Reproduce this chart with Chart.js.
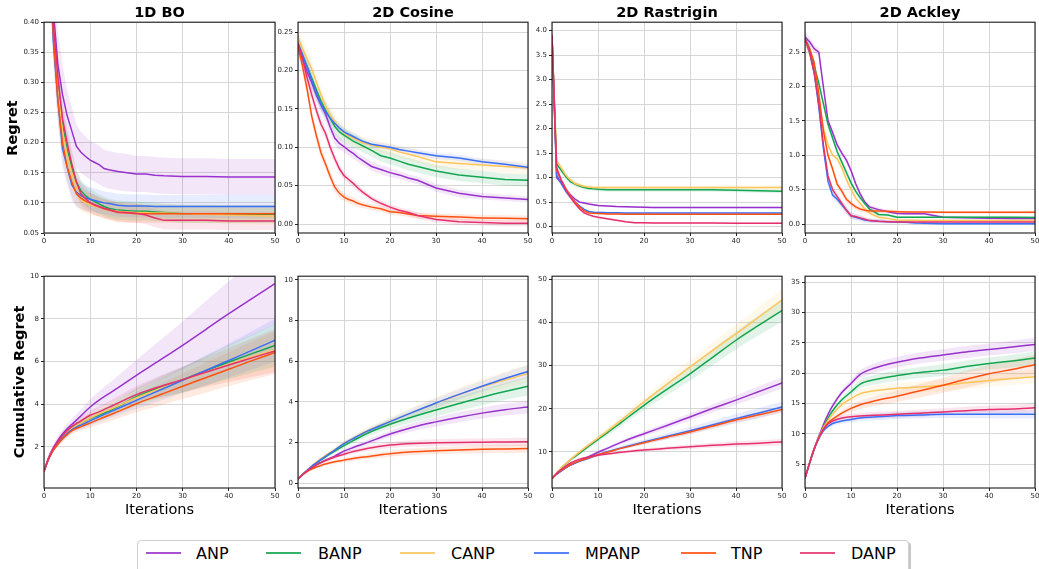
<!DOCTYPE html>
<html><head><meta charset="utf-8">
<script src="https://cdn.jsdelivr.net/npm/chart.js@4.4.1/dist/chart.umd.min.js"></script>
<style>
html,body{margin:0;padding:0;background:#fff;width:1039px;height:569px;overflow:hidden;position:relative;font-family:"DejaVu Sans",sans-serif;color:#000;}
canvas{position:absolute;}
.t{position:absolute;font-weight:bold;font-size:14.5px;transform:translate(-50%,-50%);white-space:nowrap;}
.yl{position:absolute;font-weight:bold;font-size:14.5px;transform:translate(-50%,-50%) rotate(-90deg);white-space:nowrap;}
.xl{position:absolute;font-size:14.5px;transform:translate(-50%,-50%);white-space:nowrap;}
#legend{position:absolute;left:137px;top:540px;width:770px;height:40px;border:1px solid #cfcfcf;border-radius:4px;box-shadow:2px 2px 0 rgba(0,0,0,0.22);background:#fff;}
.sw{position:absolute;height:2px;width:35px;opacity:0.85;}
.lt{position:absolute;font-size:16px;transform:translateY(-50%);white-space:nowrap;}
</style>
</head><body>
<div id="legend"></div>
<script>
const names = ['ANP','BANP','CANP','MPANP','TNP','DANP'];
const colors = ['#9932cc','#12a650','#ffc55a','#3a6ff7','#ff5010','#e6306e'];
const titles = ['1D BO','2D Cosine','2D Rastrigin','2D Ackley'];
const xTicks = [0,10,20,30,40,50];

// iterations sampled (regret rows / cumulative rows)
const iterR = [0,1,2,3,4,5,6,7,8,9,10,11,12,13,14,16,18,20,22,24,26,30,35,40,45,50];
const iterC = [0,1,2,3,4,5,6,8,10,12,15,20,25,30,35,40,45,50];

// ---- Regret: 1D BO ----
const boTicks = [0.05,0.10,0.15,0.20,0.25,0.30,0.35,0.40];
const boAnp   = [0.80,0.60,0.42,0.33,0.28,0.245,0.22,0.194,0.184,0.177,0.171,0.167,0.163,0.157,0.155,0.152,0.150,0.148,0.148,0.146,0.145,0.144,0.144,0.143,0.143,0.143];
const boBanp  = [0.80,0.56,0.39,0.30,0.23,0.19,0.16,0.135,0.12,0.112,0.106,0.102,0.098,0.094,0.091,0.088,0.087,0.086,0.086,0.085,0.084,0.082,0.082,0.081,0.081,0.081];
const boCanp  = [0.80,0.56,0.39,0.29,0.22,0.18,0.15,0.125,0.105,0.100,0.097,0.095,0.093,0.090,0.088,0.086,0.085,0.084,0.084,0.083,0.083,0.082,0.081,0.080,0.079,0.078];
const boMpanp = [0.80,0.55,0.37,0.27,0.19,0.16,0.13,0.118,0.112,0.108,0.106,0.104,0.102,0.100,0.099,0.096,0.095,0.095,0.095,0.094,0.094,0.094,0.094,0.094,0.094,0.094];
const boTnp   = [0.80,0.55,0.38,0.27,0.20,0.16,0.135,0.115,0.108,0.103,0.100,0.096,0.093,0.090,0.088,0.084,0.083,0.082,0.082,0.082,0.082,0.082,0.082,0.082,0.082,0.082];
const boDanp  = [0.80,0.57,0.40,0.31,0.24,0.20,0.165,0.135,0.115,0.107,0.100,0.097,0.094,0.091,0.089,0.085,0.084,0.083,0.080,0.075,0.071,0.071,0.071,0.070,0.070,0.070];
const boAnpSd = [0.10,0.09,0.07,0.055,0.048,0.043,0.04,0.036,0.034,0.033,0.032,0.032,0.032,0.031,0.031,0.031,0.031,0.030,0.030,0.030,0.030,0.030,0.030,0.030,0.030,0.030];
const boSd    = [0.06,0.05,0.04,0.035,0.03,0.027,0.024,0.021,0.019,0.018,0.017,0.017,0.016,0.016,0.016,0.016,0.016,0.016,0.015,0.015,0.015,0.015,0.015,0.015,0.015,0.015];
const boMpSd  = [0.06,0.05,0.04,0.035,0.03,0.028,0.026,0.024,0.022,0.021,0.02,0.02,0.02,0.019,0.019,0.019,0.019,0.019,0.019,0.019,0.019,0.019,0.019,0.019,0.019,0.019];

// ---- Regret: 2D Cosine ----
const cosTicks = [0,0.05,0.10,0.15,0.20,0.25];
const cosAnp   = [0.235,0.215,0.198,0.184,0.168,0.155,0.143,0.126,0.112,0.105,0.101,0.096,0.092,0.087,0.083,0.075,0.071,0.067,0.064,0.060,0.057,0.047,0.040,0.036,0.034,0.032];
const cosBanp  = [0.235,0.22,0.205,0.19,0.175,0.16,0.148,0.138,0.127,0.12,0.116,0.112,0.108,0.105,0.102,0.096,0.089,0.086,0.082,0.078,0.075,0.069,0.064,0.061,0.058,0.057];
const cosCanp  = [0.242,0.228,0.215,0.202,0.185,0.168,0.154,0.142,0.133,0.125,0.119,0.115,0.112,0.109,0.106,0.103,0.100,0.098,0.094,0.091,0.088,0.081,0.079,0.077,0.075,0.073];
const cosMpanp = [0.235,0.22,0.205,0.187,0.17,0.156,0.146,0.138,0.131,0.125,0.12,0.117,0.114,0.111,0.108,0.104,0.102,0.100,0.097,0.095,0.093,0.089,0.086,0.081,0.078,0.074];
const cosTnp   = [0.232,0.205,0.175,0.14,0.115,0.093,0.078,0.062,0.048,0.040,0.035,0.032,0.030,0.027,0.025,0.022,0.020,0.016,0.015,0.013,0.011,0.010,0.009,0.008,0.0075,0.007];
const cosDanp  = [0.235,0.215,0.19,0.168,0.148,0.13,0.118,0.10,0.085,0.072,0.063,0.058,0.053,0.047,0.042,0.033,0.027,0.022,0.018,0.015,0.011,0.006,0.003,0.002,0.001,0.001];
const cosSdA = [0.012,0.012,0.011,0.011,0.01,0.01,0.009,0.009,0.008,0.008,0.007,0.007,0.007,0.006,0.006,0.006,0.006,0.006,0.005,0.005,0.005,0.005,0.005,0.004,0.004,0.004];
const cosSdB = [0.014,0.014,0.013,0.013,0.012,0.012,0.011,0.011,0.01,0.01,0.009,0.009,0.009,0.009,0.008,0.008,0.008,0.008,0.008,0.008,0.008,0.008,0.008,0.008,0.008,0.008];
const cosSdC = [0.01,0.01,0.009,0.009,0.008,0.008,0.007,0.007,0.006,0.006,0.005,0.005,0.005,0.005,0.004,0.004,0.004,0.004,0.004,0.004,0.004,0.004,0.004,0.004,0.004,0.004];

// ---- Regret: 2D Rastrigin ----
const rasTicks = [0,0.5,1.0,1.5,2.0,2.5,3.0,3.5,4.0];
const rasAnp   = [3.9,1.0,0.9,0.75,0.65,0.56,0.5,0.48,0.46,0.445,0.43,0.425,0.42,0.415,0.41,0.405,0.40,0.395,0.39,0.39,0.39,0.39,0.39,0.39,0.39,0.39];
const rasBanp  = [3.9,1.28,1.15,1.02,0.92,0.87,0.83,0.80,0.78,0.77,0.76,0.755,0.75,0.75,0.75,0.75,0.75,0.75,0.75,0.75,0.75,0.75,0.75,0.74,0.73,0.72];
const rasCanp  = [3.9,1.35,1.2,1.05,0.95,0.88,0.85,0.82,0.81,0.80,0.80,0.80,0.80,0.80,0.80,0.80,0.80,0.80,0.80,0.80,0.80,0.80,0.80,0.80,0.80,0.80];
const rasMpanp = [3.9,1.05,0.88,0.72,0.6,0.5,0.42,0.35,0.31,0.295,0.29,0.287,0.285,0.283,0.282,0.28,0.28,0.28,0.28,0.28,0.28,0.28,0.28,0.28,0.28,0.28];
const rasTnp   = [3.9,1.15,0.95,0.78,0.62,0.5,0.4,0.32,0.28,0.272,0.27,0.265,0.26,0.258,0.256,0.255,0.255,0.255,0.255,0.255,0.255,0.255,0.255,0.255,0.255,0.255];
const rasDanp  = [3.9,1.2,0.95,0.75,0.6,0.47,0.36,0.28,0.24,0.21,0.19,0.175,0.16,0.145,0.13,0.10,0.08,0.078,0.076,0.075,0.075,0.073,0.072,0.071,0.07,0.07];
const rasSdA = [0.1,0.08,0.07,0.06,0.05,0.05,0.045,0.045,0.04,0.04,0.04,0.04,0.04,0.04,0.04,0.04,0.04,0.04,0.04,0.04,0.04,0.04,0.04,0.04,0.04,0.04];
const rasSdB = [0.1,0.06,0.05,0.04,0.035,0.03,0.03,0.025,0.025,0.02,0.02,0.02,0.02,0.02,0.02,0.02,0.02,0.02,0.02,0.02,0.02,0.02,0.02,0.02,0.02,0.02];

// ---- Regret: 2D Ackley ----
const ackTicks = [0,0.5,1.0,1.5,2.0,2.5];
const ackAnp   = [2.72,2.65,2.55,2.5,1.99,1.5,1.33,1.15,1.03,0.93,0.78,0.59,0.44,0.32,0.25,0.21,0.18,0.155,0.15,0.15,0.15,0.10,0.09,0.085,0.082,0.082];
const ackBanp  = [2.7,2.55,2.3,2.05,1.75,1.45,1.25,1.05,0.9,0.75,0.6,0.48,0.38,0.3,0.22,0.14,0.13,0.1,0.1,0.1,0.1,0.1,0.1,0.1,0.1,0.097];
const ackCanp  = [2.68,2.5,2.2,1.8,1.4,1.15,1.0,0.95,0.82,0.65,0.5,0.38,0.3,0.22,0.16,0.1,0.08,0.06,0.055,0.055,0.05,0.05,0.05,0.05,0.05,0.05];
const ackMpanp = [2.7,2.5,2.2,1.7,1.1,0.62,0.42,0.36,0.28,0.2,0.12,0.1,0.08,0.06,0.05,0.04,0.035,0.03,0.025,0.015,0.01,0.005,0.005,0.005,0.005,0.005];
const ackTnp   = [2.68,2.55,2.35,1.9,1.35,1.0,0.8,0.58,0.48,0.36,0.3,0.25,0.22,0.2,0.19,0.19,0.185,0.18,0.175,0.175,0.175,0.17,0.17,0.17,0.17,0.17];
const ackDanp  = [2.7,2.5,2.2,1.75,1.15,0.7,0.5,0.4,0.3,0.2,0.12,0.11,0.09,0.07,0.05,0.04,0.035,0.03,0.03,0.03,0.03,0.03,0.03,0.03,0.03,0.03];
const ackSd = [0.08,0.07,0.06,0.06,0.06,0.06,0.06,0.05,0.05,0.05,0.045,0.04,0.04,0.035,0.03,0.03,0.025,0.02,0.02,0.02,0.02,0.02,0.02,0.02,0.02,0.02];

// ---- Cumulative: 1D BO ----
const cboTicks = [2,4,6,8,10];
const cboAnp   = [0.85,1.5,1.95,2.3,2.6,2.85,3.05,3.45,3.87,4.2,4.62,5.35,6.05,6.76,7.5,8.24,8.95,9.65];
const cboBanp  = [0.85,1.45,1.88,2.2,2.48,2.7,2.88,3.12,3.32,3.5,3.78,4.35,4.78,5.15,5.57,5.98,6.37,6.75];
const cboCanp  = [0.85,1.45,1.88,2.18,2.45,2.68,2.86,3.12,3.35,3.55,3.82,4.3,4.72,5.12,5.5,5.87,6.22,6.55];
const cboMpanp = [0.85,1.43,1.85,2.15,2.4,2.62,2.8,3.02,3.22,3.42,3.7,4.18,4.65,5.12,5.58,6.05,6.52,7.0];
const cboTnp   = [0.85,1.42,1.83,2.12,2.37,2.57,2.75,2.95,3.12,3.3,3.56,4.02,4.43,4.84,5.24,5.64,6.04,6.42];
const cboDanp  = [0.85,1.47,1.92,2.24,2.52,2.76,2.95,3.22,3.48,3.65,3.95,4.45,4.82,5.15,5.5,5.84,6.17,6.5];
const cboAnpSd = [0.05,0.1,0.15,0.18,0.2,0.22,0.25,0.3,0.36,0.42,0.52,0.72,0.92,1.12,1.32,1.52,1.72,1.92];
const cboSd    = [0.05,0.08,0.1,0.12,0.14,0.15,0.16,0.19,0.22,0.25,0.3,0.4,0.5,0.6,0.7,0.8,0.9,1.0];

// ---- Cumulative: 2D Cosine ----
const ccosTicks = [0,2,4,6,8,10];
const ccosAnp   = [0.21,0.42,0.6,0.76,0.91,1.03,1.14,1.34,1.58,1.76,2.0,2.42,2.76,3.02,3.25,3.45,3.62,3.75];
const ccosBanp  = [0.21,0.43,0.63,0.82,0.99,1.15,1.3,1.58,1.85,2.1,2.45,2.9,3.27,3.6,3.92,4.23,4.51,4.77];
const ccosCanp  = [0.21,0.44,0.65,0.85,1.04,1.21,1.37,1.66,1.98,2.22,2.57,3.04,3.5,3.93,4.35,4.74,5.08,5.4];
const ccosMpanp = [0.21,0.44,0.64,0.84,1.01,1.18,1.33,1.63,1.95,2.2,2.55,3.03,3.5,3.95,4.37,4.77,5.15,5.5];
const ccosTnp   = [0.21,0.42,0.58,0.7,0.8,0.88,0.95,1.06,1.14,1.22,1.31,1.45,1.55,1.6,1.64,1.67,1.69,1.71];
const ccosDanp  = [0.21,0.43,0.61,0.77,0.91,1.02,1.12,1.29,1.43,1.56,1.71,1.88,1.96,1.99,2.01,2.02,2.03,2.04];
const ccosSdA = [0.02,0.03,0.04,0.05,0.06,0.07,0.08,0.09,0.1,0.11,0.13,0.16,0.2,0.23,0.25,0.27,0.29,0.3];
const ccosSdB = [0.02,0.03,0.04,0.05,0.06,0.07,0.08,0.1,0.12,0.14,0.17,0.22,0.27,0.31,0.35,0.39,0.42,0.45];
const ccosSdC = [0.02,0.03,0.04,0.05,0.06,0.07,0.08,0.09,0.1,0.11,0.12,0.14,0.16,0.17,0.18,0.19,0.2,0.2];

// ---- Cumulative: 2D Rastrigin ----
const crasTicks = [10,20,30,40,50];
const crasAnp   = [3.8,4.8,5.6,6.3,6.9,7.4,7.9,8.9,9.9,10.8,12.2,14.2,16.1,18.1,20.1,22.0,24.0,26.0];
const crasBanp  = [3.8,5.0,6.2,7.2,8.1,8.9,9.7,11.3,12.9,14.4,16.8,20.8,24.5,28.1,32.0,35.9,39.4,42.8];
const crasCanp  = [3.8,5.1,6.3,7.3,8.2,9.1,10.0,11.6,13.2,14.8,17.3,21.6,25.7,29.7,33.6,37.4,41.3,45.2];
const crasMpanp = [3.8,4.8,5.6,6.3,6.9,7.4,7.8,8.5,9.3,10.0,10.9,12.3,13.6,14.9,16.3,17.7,19.0,20.4];
const crasTnp   = [3.8,4.9,5.7,6.4,7.0,7.5,7.9,8.6,9.3,9.9,10.8,12.1,13.4,14.6,16.0,17.4,18.6,19.8];
const crasDanp  = [3.8,5.0,5.9,6.7,7.4,7.9,8.3,8.8,9.2,9.5,9.9,10.4,10.8,11.2,11.5,11.8,12.0,12.3];
const crasSdA = [0.1,0.15,0.2,0.25,0.3,0.35,0.4,0.5,0.6,0.7,0.85,1.1,1.35,1.6,1.85,2.1,2.35,2.6];
const crasSdB = [0.1,0.12,0.15,0.18,0.2,0.22,0.25,0.3,0.35,0.4,0.48,0.6,0.72,0.84,0.96,1.08,1.2,1.3];
const crasSdC = [0.1,0.12,0.14,0.16,0.18,0.2,0.22,0.25,0.28,0.3,0.34,0.4,0.46,0.52,0.58,0.64,0.7,0.75];

// ---- Cumulative: 2D Ackley ----
const cackTicks = [5,10,15,20,25,30,35];
const cackAnp   = [2.64,5.2,7.6,9.6,11.5,13.2,14.6,16.8,18.3,19.8,20.8,21.8,22.5,23.0,23.5,23.9,24.3,24.75];
const cackBanp  = [2.64,5.2,7.5,9.4,11.1,12.6,13.8,15.6,16.9,18.2,18.9,19.6,20.1,20.5,21.1,21.6,22.0,22.5];
const cackCanp  = [2.64,5.2,7.5,9.4,11.0,12.2,13.2,14.8,15.8,16.6,17.1,17.5,17.7,18.0,18.4,18.8,19.1,19.4];
const cackMpanp = [2.64,5.1,7.4,9.2,10.5,11.2,11.7,12.1,12.35,12.6,12.75,13.0,13.1,13.2,13.2,13.2,13.2,13.2];
const cackTnp   = [2.64,5.2,7.5,9.3,10.8,11.8,12.4,13.4,14.2,14.8,15.4,16.2,17.1,18.0,19.0,19.9,20.6,21.4];
const cackDanp  = [2.64,5.2,7.5,9.3,10.7,11.6,12.1,12.6,12.8,12.95,13.05,13.2,13.4,13.6,13.8,14.0,14.1,14.3];
const cackSdA = [0.1,0.15,0.2,0.25,0.3,0.35,0.4,0.5,0.6,0.7,0.8,0.85,0.9,0.95,1.0,1.0,1.05,1.1];
const cackSdT = [0.1,0.15,0.2,0.25,0.3,0.35,0.4,0.5,0.6,0.7,0.8,0.95,1.1,1.25,1.4,1.5,1.6,1.7];
const cackSdS = [0.1,0.15,0.2,0.25,0.3,0.35,0.4,0.45,0.5,0.5,0.55,0.55,0.6,0.6,0.65,0.65,0.7,0.7];

const panels = [
 {L:44,R:275,T:22,B:233,x:iterR,y:[boAnp,boBanp,boCanp,boMpanp,boTnp,boDanp],sd:[boAnpSd,boSd,boSd,boMpSd,boSd,boSd],min:0.05,max:0.40,ticks:boTicks,dec:2,smooth:false},
 {L:298,R:528,T:22,B:233,x:iterR,y:[cosAnp,cosBanp,cosCanp,cosMpanp,cosTnp,cosDanp],sd:[cosSdA,cosSdB,cosSdB,cosSdC,cosSdC,cosSdC],min:-0.0117,max:0.263,ticks:cosTicks,dec:2,smooth:false},
 {L:552,R:782,T:22,B:233,x:iterR,y:[rasAnp,rasBanp,rasCanp,rasMpanp,rasTnp,rasDanp],sd:[rasSdB,rasSdA,rasSdA,rasSdB,rasSdB,rasSdB],min:-0.13,max:4.17,ticks:rasTicks,dec:1,smooth:false},
 {L:805,R:1035,T:22,B:233,x:iterR,y:[ackAnp,ackBanp,ackCanp,ackMpanp,ackTnp,ackDanp],sd:[ackSd,ackSd,ackSd,ackSd,ackSd,ackSd],min:-0.13,max:2.935,ticks:ackTicks,dec:1,smooth:false},
 {L:44,R:275,T:276,B:488,x:iterC,y:[cboAnp,cboBanp,cboCanp,cboMpanp,cboTnp,cboDanp],sd:[cboAnpSd,cboSd,cboSd,cboSd,cboSd,cboSd],min:0.07,max:10,ticks:cboTicks,dec:0,smooth:true},
 {L:298,R:528,T:276,B:488,x:iterC,y:[ccosAnp,ccosBanp,ccosCanp,ccosMpanp,ccosTnp,ccosDanp],sd:[ccosSdA,ccosSdB,ccosSdB,ccosSdA,ccosSdC,ccosSdC],min:-0.23,max:10.18,ticks:ccosTicks,dec:0,smooth:true},
 {L:552,R:782,T:276,B:488,x:iterC,y:[crasAnp,crasBanp,crasCanp,crasMpanp,crasTnp,crasDanp],sd:[crasSdB,crasSdA,crasSdA,crasSdB,crasSdC,crasSdC],min:1.6,max:50.77,ticks:crasTicks,dec:0,smooth:true},
 {L:805,R:1035,T:276,B:488,x:iterC,y:[cackAnp,cackBanp,cackCanp,cackMpanp,cackTnp,cackDanp],sd:[cackSdA,cackSdA,cackSdA,cackSdS,cackSdT,cackSdS],min:1.05,max:36,ticks:cackTicks,dec:0,smooth:true}
];

Chart.defaults.font.family = '"DejaVu Sans", sans-serif';
function rgba(hex,a){const n=parseInt(hex.slice(1),16);return `rgba(${n>>16},${(n>>8)&255},${n&255},${a})`;}
const frame = {id:'frame', afterDatasetsDraw(c){const a=c.chartArea,ctx=c.ctx;ctx.save();ctx.strokeStyle='#1a1a1a';ctx.lineWidth=1.1;ctx.strokeRect(a.left,a.top,a.right-a.left,a.bottom-a.top);ctx.restore();}};
const YW=40, PR=6, PT=6, XH=16;

function addText(cls,txt,x,y){const d=document.createElement('div');d.className=cls;d.textContent=txt;d.style.left=x+'px';d.style.top=y+'px';document.body.appendChild(d);}

panels.forEach((p,k)=>{
  const cv=document.createElement('canvas');
  const w=p.R-p.L+YW+PR, h=p.B-p.T+PT+XH;
  cv.width=w; cv.height=h;
  cv.style.left=(p.L-YW)+'px'; cv.style.top=(p.T-PT)+'px'; cv.style.width=w+'px'; cv.style.height=h+'px';
  document.body.appendChild(cv);
  const interp = p.smooth ? 'monotone' : 'default';
  const ds=[];
  names.forEach((n,i)=>{
    ds.push({label:n,data:p.x.map((v,j)=>({x:v,y:p.y[i][j]})),borderColor:colors[i],borderWidth:1.5,pointRadius:0,fill:false,order:6-i,tension:0,cubicInterpolationMode:interp});
  });
  names.forEach((n,i)=>{
    ds.push({label:n+'+',data:p.x.map((v,j)=>({x:v,y:p.y[i][j]+p.sd[i][j]})),borderColor:'rgba(0,0,0,0)',borderWidth:0,pointRadius:0,fill:false,order:20,tension:0,cubicInterpolationMode:interp});
    ds.push({label:n+'-',data:p.x.map((v,j)=>({x:v,y:p.y[i][j]-p.sd[i][j]})),borderColor:'rgba(0,0,0,0)',borderWidth:0,pointRadius:0,fill:'-1',backgroundColor:rgba(colors[i],0.12),order:20,tension:0,cubicInterpolationMode:interp});
  });
  new Chart(cv,{type:'line',data:{datasets:ds},plugins:[frame],options:{
    responsive:false,animation:false,devicePixelRatio:1,
    layout:{padding:{left:0,right:PR,top:PT,bottom:0}},
    plugins:{legend:{display:false},tooltip:{enabled:false}},
    scales:{
      x:{type:'linear',min:0,max:50,
         afterBuildTicks:s=>{s.ticks=xTicks.map(v=>({value:v}));},
         afterFit:s=>{s.height=XH;},
         border:{display:false},
         grid:{color:'#d6d6d6',lineWidth:1,tickLength:3,tickColor:'#222'},
         ticks:{font:{size:7},color:'#262626',padding:1,maxRotation:0,autoSkip:false,callback:v=>String(v)}},
      y:{type:'linear',min:p.min,max:p.max,
         afterBuildTicks:s=>{s.ticks=p.ticks.map(v=>({value:v}));},
         afterFit:s=>{s.width=YW;},
         border:{display:false},
         grid:{color:'#d6d6d6',lineWidth:1,tickLength:3,tickColor:'#222'},
         ticks:{font:{size:7},color:'#262626',padding:2,autoSkip:false,callback:v=>Number(v).toFixed(p.dec)}}
    }
  }});
  if(k<4) addText('t',titles[k],(p.L+p.R)/2,12);
  else addText('xl','Iterations',(p.L+p.R)/2,509);
});
addText('yl','Regret',12,127.5);
addText('yl','Cumulative Regret',19,382);

// legend
const lg=document.getElementById('legend');
const swX=[146,266,400,534,681,800], txX=[196,318,451,585,731,851];
names.forEach((n,i)=>{
  const s=document.createElement('div');s.className='sw';s.style.background=colors[i];s.style.left=(swX[i]-138)+'px';s.style.top='11px';lg.appendChild(s);
  const t=document.createElement('div');t.className='lt';t.textContent=n;t.style.left=(txX[i]-138)+'px';t.style.top='12px';lg.appendChild(t);
});
</script>
</body></html>
